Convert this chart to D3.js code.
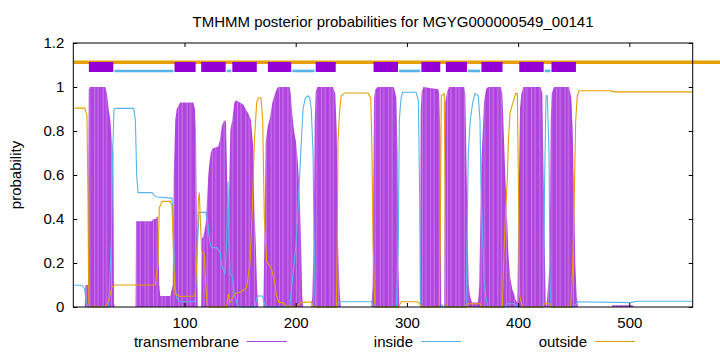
<!DOCTYPE html>
<html>
  <head>
    <title>TMHMM posterior probabilities</title>
    <style>
      body,
      html {
        margin: 0;
        padding: 0;
        background: #fff;
      }
      text {
        font-family: 'Liberation Sans', Arial, sans-serif;
        font-size: 15px;
        fill: #000;
      }
    </style>
  </head>
  <body>
    <svg id="svg" width="720" height="352"></svg>
    <script src="https://cdn.jsdelivr.net/npm/d3@7"></script>
    <script>
      const title = 'TMHMM posterior probabilities for MGYG000000549_00141';
      const seqLength = 557;
      const xTicks = [100, 200, 300, 400, 500];
      const yTicks = [0, 0.2, 0.4, 0.6, 0.8, 1, 1.2];
      const seriesNames = ['transmembrane', 'inside', 'outside'];

      // predicted topology (residue ranges)
      const tmSegments = [[14, 36], [91, 110], [115, 137], [143, 165], [175, 196], [218, 236],
        [270, 292], [313, 330], [335, 354], [367, 386], [401, 423], [430, 452]];
      const insideSegments = [[37, 90], [138, 142], [197, 217], [293, 312], [355, 366], [424, 429]];
      const outsideSpan = [0, 582];

      // posterior probabilities [residue, p]
      const tmProb = [[1,0],[10.3,0],[10.8,0.1],[13.2,0.1],[13.5,0.6],[13.9,0.99],[15,1],[28.8,1],[30.3,0.97],
        [31.8,0.9],[33.3,0.85],[34.8,0.75],[36,0.7],[36.6,0.02],[37.2,0],[56,0],[56.4,0.39],[70.8,0.39],
        [71.7,0.4],[74.4,0.4],[75,0.41],[76.2,0.41],[77.3,0.1],[78.2,0.05],[87.2,0.05],[89.4,0.1],[90.3,0.6],
        [91.7,0.85],[93,0.9],[96,0.93],[107.9,0.93],[109.4,0.9],[110.3,0.8],[111.2,0.3],[111.9,0],[115,0],
        [115.5,0.31],[116.9,0.32],[119.1,0.38],[120.2,0.48],[121.4,0.6],[122.3,0.65],[123.6,0.7],[125,0.72],
        [130.4,0.73],[131.9,0.76],[133.5,0.82],[134.9,0.84],[136.4,0.85],[137.3,0.84],[137.9,0.7],[138.9,0.45],
        [139.4,0.35],[140.3,0.6],[141.2,0.8],[141.8,0.82],[143,0.85],[144.8,0.93],[146.3,0.94],[149.9,0.93],
        [152.9,0.92],[155,0.9],[157.4,0.88],[159.8,0.85],[161.9,0.72],[162.8,0.45],[164,0.3],[165.2,0.1],
        [166.4,0],[170.9,0],[171.8,0.3],[173,0.75],[174.8,0.82],[176.9,0.86],[179,0.93],[181.4,0.97],
        [182.9,0.99],[184.4,1],[194.6,1],[195.5,0.97],[196.9,0.88],[198.5,0.8],[200.3,0.75],[202.1,0.65],
        [203.6,0.5],[204.8,0.3],[205.9,0.05],[206.6,0],[214,0],[214.9,0.05],[216.2,0.3],[217.1,0.85],
        [218,0.98],[219.4,1],[233.5,1],[235.6,0.97],[236.9,0.8],[238,0.3],[239.6,0.06],[240.5,0],[268,0],
        [269.2,0.1],[270.4,0.95],[271.6,0.99],[274,1],[288.1,1],[289.3,0.98],[290.5,0.95],[291.7,0.7],
        [292.3,0.2],[293.2,0],[311.8,0],[312.4,0.9],[313.3,0.98],[314.8,1],[328.2,0.99],[329.1,0.97],
        [330,0.8],[330.9,0],[333.6,0],[334,0.5],[334.5,0.93],[336.1,0.98],[338.1,1],[351.6,1],[352.5,0.97],
        [353.8,0.6],[354.7,0.3],[355.6,0.1],[356.7,0.05],[358.5,0.02],[364,0.02],[365.1,0.1],[366,0.4],
        [366.9,0.65],[368.2,0.8],[369.3,0.93],[371.1,0.99],[372.9,1],[384.4,1],[385.8,0.97],[386.7,0.85],
        [387.9,0.68],[388.9,0.55],[389.8,0.42],[390.3,0.38],[391.2,0.25],[392.7,0.14],[394.8,0.08],
        [396.3,0.06],[398,0.03],[399.3,0.02],[400.2,0.4],[401.7,0.9],[402.9,0.97],[404.7,1],[420.3,1],
        [421.8,0.97],[423,0.6],[423.9,0.3],[424.8,0.02],[425.5,0],[428.4,0.2],[429.3,0.85],[430.2,0.97],
        [432.3,1],[445.8,1],[447.9,0.95],[449.1,0.8],[450.3,0.55],[451.4,0.2],[452.7,0.05],[453.9,0],
        [484.2,0],[485,0.008],[503.3,0.008],[504,0],[557,0]];

      const insideProb = [[1,0.099],[7.8,0.099],[10.3,0.08],[11.5,0.02],[13,0],[31.8,0],[34.2,0.3],[35.4,0.7],
        [36.6,0.9],[37.8,0.903],[54.3,0.903],[55.8,0.85],[57,0.6],[58.2,0.52],[70.8,0.52],[73.2,0.505],
        [75.3,0.5],[88.8,0.495],[90.3,0.3],[91.5,0.1],[93,0.04],[96,0.024],[109.4,0.024],[111,0.2],[113,0.43],
        [119.1,0.43],[120.9,0.38],[122.9,0.29],[124.5,0.27],[129,0.27],[131.9,0.25],[134,0.18],[136.4,0.15],
        [137.9,0.3],[139.1,0.57],[140,0.3],[140.9,0.15],[143,0.14],[144.8,0.06],[146.9,0.02],[149,0],
        [163.4,0],[164.9,0.04],[166.4,0.05],[170,0.05],[171.8,0.02],[173,0],[194.6,0],[196,0.07],
        [197.6,0.15],[200.5,0.3],[202.1,0.45],[203.6,0.6],[205,0.75],[206.6,0.9],[208.6,0.95],[211.1,0.96],
        [212.6,0.95],[214,0.9],[215.6,0.7],[216.5,0.3],[217.6,0.02],[218.5,0],[236.5,0],[238,0.02],
        [241,0.024],[268,0.024],[269.5,0.01],[270.5,0],[290.5,0],[292.3,0.3],[293.2,0.85],[294.7,0.95],
        [296.2,0.976],[308.2,0.976],[310.3,0.94],[311.5,0.5],[312.1,0.02],[313,0],[330.7,0],[331.6,0.01],
        [332.5,0],[353.2,0],[354.1,0.3],[355.2,0.7],[357,0.85],[359.2,0.93],[361.2,0.97],[364.2,0.96],
        [365.7,0.85],[366.6,0.55],[369.3,0.12],[370.9,0.05],[372.3,0.01],[373.5,0],[387.3,0],[390.3,0.015],
        [396.3,0.015],[399.3,0.005],[400.5,0],[422,0],[422.7,0.02],[423.9,0.6],[425.1,0.96],[426.3,0.96],
        [427.8,0.7],[428.7,0.1],[429.8,0],[450.3,0],[453.2,0.024],[500.9,0.02],[506.9,0.026],[557,0.026]];

      const outsideProb = [[1,0.904],[10.3,0.904],[11.2,0.89],[12.3,0.87],[13.2,0.5],[13.9,0.02],[15,0],
        [28.8,0],[31.8,0.03],[34.8,0.09],[37.2,0.1],[73.7,0.1],[76.2,0.2],[77.3,0.45],[79.8,0.48],[87.2,0.48],
        [88.8,0.46],[90.3,0.2],[91.5,0.06],[96,0.048],[109.4,0.05],[111,0.2],[112.4,0.48],[113.3,0.52],
        [114.2,0.4],[115.5,0.25],[117.8,0.24],[119.1,0.1],[120.5,0.01],[121.5,0],[137.9,0],[139.4,0.06],
        [140.9,0.02],[143,0.04],[145.4,0.06],[151.4,0.07],[155.9,0.09],[158.9,0.2],[161,0.45],[162.8,0.75],
        [164.9,0.93],[166.4,0.95],[168.8,0.95],[170.3,0.85],[171.8,0.4],[173.9,0.21],[178.4,0.17],
        [180.8,0.12],[182.9,0.05],[185,0.02],[189,0.02],[191,0.005],[200,0],[204.8,0.02],[214,0.024],
        [215.6,0.005],[217,0],[236.5,0],[237.4,0.3],[238,0.75],[239.6,0.9],[241,0.96],[244.1,0.973],
        [265,0.973],[267.5,0.95],[268.6,0.7],[269.5,0.3],[271,0.02],[272,0],[292.3,0],[293.5,0.01],
        [295,0.024],[309.7,0.024],[312.1,0.01],[313,0],[329.1,0],[330,0.3],[330.9,0.96],[333.6,0.97],
        [334.3,0.5],[334.8,0.02],[335.5,0],[353.2,0],[354.7,0.015],[366,0.015],[366.9,0],[385.8,0],
        [387.3,0.25],[388.9,0.45],[390.3,0.58],[391.2,0.75],[392.7,0.88],[394.8,0.92],[397.8,0.97],
        [399.3,0.97],[400.2,0.6],[401.4,0.05],[403.8,0],[422.7,0],[423.3,0.015],[428.4,0.015],[429.3,0],
        [447.3,0],[448.8,0.15],[450.3,0.45],[451.8,0.85],[453.2,0.96],[454.8,0.983],[482.9,0.983],
        [486,0.978],[557,0.978]];

      const width = 720;
      const height = 352;
      const margin = { top: 43, right: 27.3, bottom: 45, left: 73.3 };
      const colors = { tm: '#9400d3', tmFill: '#b044de', tmStripe: '#cc88ec', inside: '#56b4e9', outside: '#e69f00' };

      const svg = d3.select('#svg');
      const x = d3.scaleLinear().domain([0, seqLength]).range([margin.left, width - margin.right]);
      const y = d3.scaleLinear().domain([0, 1.2]).range([height - margin.bottom, margin.top]);

      // impulse look: light stripes through the filled area
      const pattern = svg.append('defs').append('pattern')
        .attr('id', 'impulses').attr('patternUnits', 'userSpaceOnUse')
        .attr('width', 8.4).attr('height', 10);
      pattern.append('rect').attr('width', 8.4).attr('height', 10).attr('fill', colors.tmFill);
      pattern.append('rect').attr('x', 2).attr('width', 0.8).attr('height', 10).attr('fill', colors.tmStripe);
      pattern.append('rect').attr('x', 5.3).attr('width', 0.8).attr('height', 10).attr('fill', colors.tmStripe);

      // probability curves
      const area = d3.area().x((d) => x(d[0])).y0(y(0)).y1((d) => y(d[1]));
      const line = d3.line().x((d) => x(d[0])).y((d) => y(d[1]));

      svg.append('path').datum(tmProb).attr('d', area).attr('fill', 'url(#impulses)');
      svg.append('path').datum(insideProb).attr('d', line)
        .attr('fill', 'none').attr('stroke', colors.inside).attr('stroke-width', 1.1);
      svg.append('path').datum(outsideProb).attr('d', line)
        .attr('fill', 'none').attr('stroke', colors.outside).attr('stroke-width', 1.1);

      // topology track above the curves
      svg.append('line')
        .attr('x1', x(outsideSpan[0])).attr('x2', x(outsideSpan[1]))
        .attr('y1', y(1.112)).attr('y2', y(1.112))
        .attr('stroke', colors.outside).attr('stroke-width', 3.5);
      svg.append('g').selectAll('line').data(tmSegments).enter().append('line')
        .attr('x1', (d) => x(d[0])).attr('x2', (d) => x(d[1]))
        .attr('y1', y(1.091)).attr('y2', y(1.091))
        .attr('stroke', colors.tm).attr('stroke-width', 10);
      svg.append('g').selectAll('line').data(insideSegments).enter().append('line')
        .attr('x1', (d) => x(d[0])).attr('x2', (d) => x(d[1]))
        .attr('y1', y(1.073)).attr('y2', y(1.073))
        .attr('stroke', colors.inside).attr('stroke-width', 2.6);

      // axes, ticks pointing inward
      svg.append('g')
        .attr('transform', `translate(0, ${y(0)})`)
        .call(d3.axisBottom(x).tickValues(xTicks).tickSize(-4).tickPadding(10));
      svg.append('g')
        .attr('transform', `translate(0, ${y(1.2)})`)
        .call(d3.axisTop(x).tickValues(xTicks).tickSize(-4).tickFormat(''));
      svg.append('g')
        .attr('transform', `translate(${x(0)}, 0)`)
        .call(d3.axisLeft(y).tickValues(yTicks).tickSize(-4).tickPadding(9).tickFormat(d3.format('')));
      svg.append('g')
        .attr('transform', `translate(${x(seqLength)}, 0)`)
        .call(d3.axisRight(y).tickValues(yTicks).tickSize(-4).tickFormat(''));
      svg.selectAll('.domain').remove();
      svg.selectAll('.tick line').attr('stroke', '#000');
      svg.selectAll('.tick text').attr('font-size', null).attr('font-family', null).style('font-size', '15px');

      svg.append('rect')
        .attr('x', x(0)).attr('y', y(1.2))
        .attr('width', x(seqLength) - x(0)).attr('height', y(0) - y(1.2))
        .attr('fill', 'none').attr('stroke', '#000').attr('stroke-width', 1);

      svg.append('text').attr('x', 393).attr('y', 27).attr('text-anchor', 'middle').text(title);
      svg.append('text')
        .attr('transform', `translate(21, ${(y(0) + y(1.2)) / 2}) rotate(-90)`)
        .attr('text-anchor', 'middle').text('probability');

      // legend
      const legendColors = [colors.tmFill, colors.inside, colors.outside];
      const legend = svg.append('g').selectAll('g').data(seriesNames).enter().append('g')
        .attr('transform', (d, i) => `translate(${239 + i * 174}, 341.5)`);
      legend.append('text').attr('text-anchor', 'end').attr('dy', '0.35em').text((d) => d);
      legend.append('line').attr('x1', 8).attr('x2', 48)
        .attr('stroke', (d, i) => legendColors[i]).attr('stroke-width', 1.2);
    </script>
  </body>
</html>
